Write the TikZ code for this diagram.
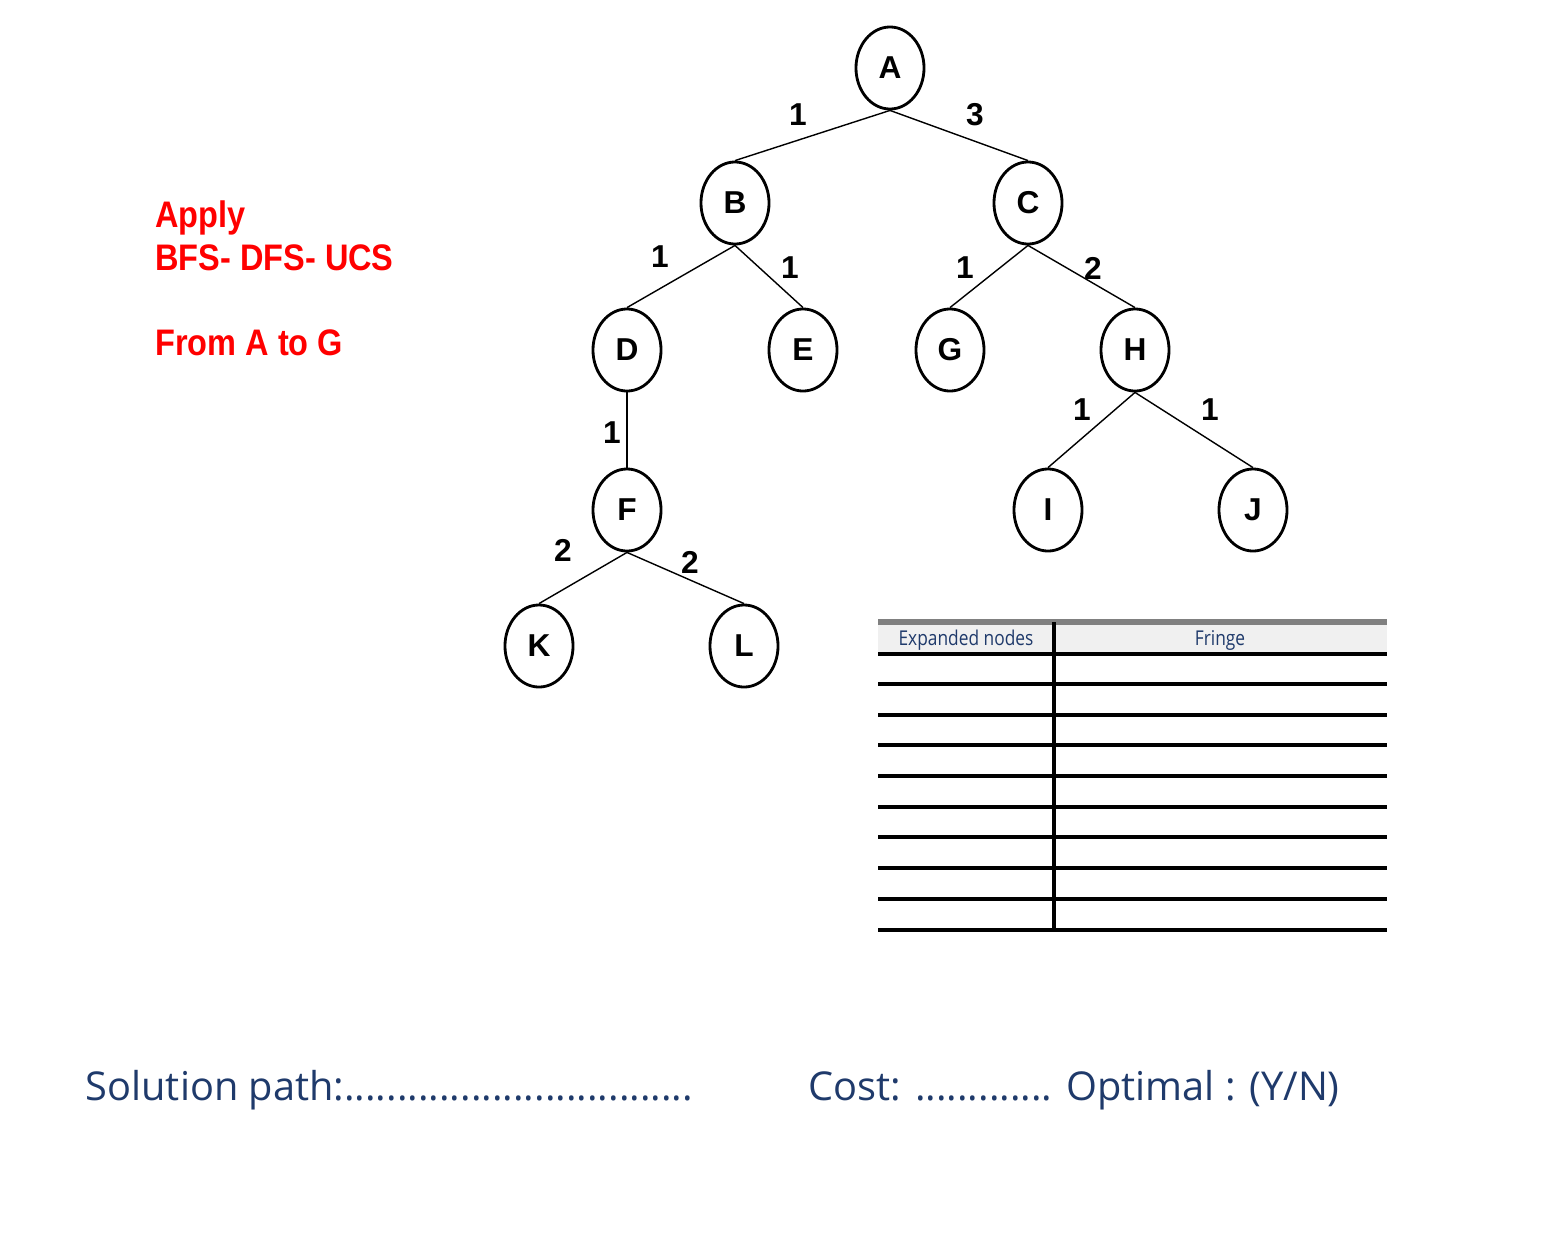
\documentclass[tikz,border=0pt]{standalone}
\usepackage{fontspec}
\setmainfont{Liberation Sans}
\newfontfamily\osans{Open Sans}
\usetikzlibrary{shapes.geometric}
\definecolor{navy}{HTML}{1F3A6B}
\tikzset{
  tn/.style={draw,ellipse,thick,minimum width=0.68cm,minimum height=0.82cm,inner sep=0pt,font=\bfseries\fontsize{9}{9}\selectfont},
  el/.style={font=\bfseries\fontsize{9}{9}\selectfont},
  red/.style={text=red,font=\bfseries\fontsize{10.5}{11}\selectfont,anchor=west},
  tl/.style={line width=0.9pt},
}
\begin{document}
\begin{tikzpicture}[x=0.01cm,y=-0.01cm]
\useasboundingbox (0,0) rectangle (1542,1236);
\node[tn] (A) at (890,68) {A};
\node[tn] (B) at (735,203) {B};
\node[tn] (C) at (1028,203) {C};
\node[tn] (D) at (627,350) {D};
\node[tn] (E) at (803,350) {E};
\node[tn] (G) at (950,350) {G};
\node[tn] (H) at (1135,350) {H};
\node[tn] (F) at (627,510) {F};
\node[tn] (I) at (1048,510) {I};
\node[tn] (J) at (1253,510) {J};
\node[tn] (K) at (539,646) {K};
\node[tn] (L) at (744,646) {L};
\foreach \p/\c in {A/B,A/C,B/D,B/E,C/G,C/H,D/F,F/K,F/L,H/I,H/J}
  \draw (\p.south) -- (\c.north);
\node[el] (l1) at (798,115) {1};
\node[el] (l2) at (975,115) {3};
\node[el] (l3) at (660,257) {1};
\node[el] (l4) at (790,268) {1};
\node[el] (l5) at (965,268) {1};
\node[el] (l6) at (1093,268) {2};
\node[el] (l7) at (612,433) {1};
\node[el] (l8) at (563,550) {2};
\node[el] (l9) at (690,562) {2};
\node[el] (l10) at (1082,410) {1};
\node[el] (l11) at (1210,410) {1};
\node[red] (t1) at (143,218) {\scalebox{0.88}[1]{Apply}};
\node[red] (t2) at (143,258) {\scalebox{0.88}[1]{BFS- DFS- UCS}};
\node[red] (t3) at (143,343) {\scalebox{0.88}[1]{From A to G}};
% table
\fill[gray!12] (878,622) rectangle (1387,654);
\draw[gray,line width=1.5pt] (878,622) -- (1387,622);
\foreach \y in {654,684,715,745,776,807,837,868,899,930}
  \draw[tl] (878,\y) -- (1387,\y);
\draw[tl] (1054,622) -- (1054,930);
\node[text=navy,font=\osans\fontsize{5.8}{6}\selectfont] (h1) at (966,640) {\scalebox{0.85}[1]{Expanded nodes}};
\node[text=navy,font=\osans\fontsize{5.8}{6}\selectfont] (h2) at (1220,640) {\scalebox{0.85}[1]{Fringe}};
\node[text=navy,font=\osans\fontsize{11.3}{12}\selectfont,anchor=west,inner sep=0pt] (s1) at (85,1090) {Solution path:.................................};
\node[text=navy,font=\osans\fontsize{11.3}{12}\selectfont,anchor=west,inner sep=0pt] (s2) at (808,1090) {Cost: ............. Optimal : (Y/N)};
\end{tikzpicture}
\end{document}
